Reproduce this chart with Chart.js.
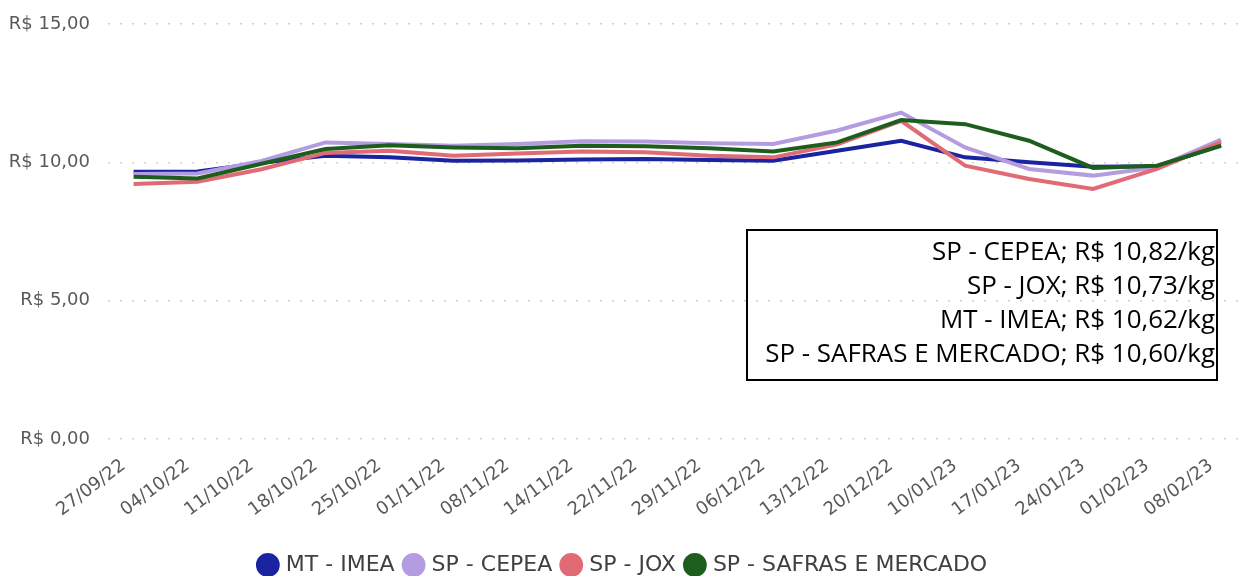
<!DOCTYPE html>
<html>
<head>
<meta charset="utf-8">
<script src="https://cdn.jsdelivr.net/npm/chart.js@4"></script>
<style>
  html, body { margin: 0; padding: 0; background: #ffffff; }
  #wrap { width: 1242px; height: 576px; position: relative; }
</style>
</head>
<body>
<div id="wrap"><canvas id="c" width="1242" height="576"></canvas></div>
<script>
const categories = ['27/09/22','04/10/22','11/10/22','18/10/22','25/10/22','01/11/22','08/11/22','14/11/22','22/11/22','29/11/22','06/12/22','13/12/22','20/12/22','10/01/23','17/01/23','24/01/23','01/02/23','08/02/23'];
const seriesNames = ['MT - IMEA', 'SP - CEPEA', 'SP - JOX', 'SP - SAFRAS E MERCADO'];
const mtImea   = [9.66, 9.67, 9.98, 10.24, 10.18, 10.06, 10.07, 10.10, 10.12, 10.08, 10.06, 10.42, 10.78, 10.18, 10.00, 9.84, 9.86, 10.62];
const spCepea  = [9.58, 9.60, 10.05, 10.72, 10.66, 10.60, 10.66, 10.76, 10.75, 10.69, 10.66, 11.15, 11.80, 10.54, 9.76, 9.52, 9.82, 10.82];
const spJox    = [9.22, 9.30, 9.75, 10.34, 10.42, 10.24, 10.32, 10.39, 10.36, 10.24, 10.18, 10.65, 11.50, 9.88, 9.40, 9.04, 9.76, 10.73];
const spSafras = [9.48, 9.42, 9.95, 10.48, 10.62, 10.54, 10.51, 10.60, 10.58, 10.51, 10.39, 10.72, 11.53, 11.38, 10.78, 9.80, 9.88, 10.60];
const yTicks = [0, 5, 10, 15];

const colors = ['#1b24a0', '#b39de0', '#e06b74', '#1d5e1f'];
const allSeries = [mtImea, spCepea, spJox, spSafras];

function fmtBRL(v) { return 'R$ ' + v.toFixed(2).replace('.', ','); }

const datasets = allSeries.map((s, k) => ({
  label: seriesNames[k],
  data: s.map((v, i) => ({ x: i, y: v })),
  borderColor: colors[k],
  backgroundColor: colors[k],
  borderWidth: 4,
  pointRadius: 0,
  tension: 0,
  order: 3 - k
}));

const annotationPlugin = {
  id: 'lastValueBox',
  afterDatasetsDraw(chart) {
    const ctx = chart.ctx;
    const lines = allSeries.map((s, k) => ({ name: seriesNames[k], v: s[s.length - 1] }))
      .sort((a, b) => b.v - a.v)
      .map(o => o.name + '; ' + fmtBRL(o.v) + '/kg');
    const x0 = 747, x1 = 1217, y0 = 230, y1 = 380;
    ctx.save();
    ctx.strokeStyle = '#000';
    ctx.lineWidth = 2;
    ctx.strokeRect(x0, y0, x1 - x0, y1 - y0);
    ctx.fillStyle = '#000';
    ctx.textAlign = 'right';
    ctx.textBaseline = 'middle';
    ctx.font = '20px "Open Sans", sans-serif';
    const w = ctx.measureText(lines[3]).width;
    const size = 20 * 450 / w;
    ctx.font = size.toFixed(2) + 'px "Open Sans", sans-serif';
    lines.forEach((t, i) => ctx.fillText(t, 1215, 253 + i * 34));
    ctx.restore();
  }
};

new Chart(document.getElementById('c'), {
  type: 'line',
  data: { datasets },
  plugins: [annotationPlugin],
  options: {
    responsive: false,
    animation: false,
    layout: { padding: { left: 8, right: 2, top: 24, bottom: -10 } },
    plugins: {
      tooltip: { enabled: false },
      legend: {
        position: 'bottom',
        labels: {
          sort: (a, b) => a.datasetIndex - b.datasetIndex,
          usePointStyle: true,
          pointStyle: 'circle',
          boxWidth: 14,
          boxHeight: 14,
          padding: 12,
          color: '#404040',
          font: { family: '"DejaVu Sans", sans-serif', size: 22, lineHeight: 1 }
        }
      }
    },
    scales: {
      x: {
        type: 'linear',
        min: -0.40,
        max: 17.297,
        afterBuildTicks(scale) { scale.ticks = categories.map((c, i) => ({ value: i })); },
        afterFit(scale) { scale.paddingLeft = 0; scale.paddingRight = 0; scale.height = 103; },
        grid: { display: false },
        border: { display: false },
        ticks: {
          autoSkip: false,
          minRotation: 37,
          maxRotation: 37,
          padding: 8,
          labelOffset: -10,
          color: '#595959',
          font: { family: '"DejaVu Sans", sans-serif', size: 18 },
          callback: (v) => categories[v]
        }
      },
      y: {
        min: 0,
        max: 15,
        afterBuildTicks(scale) { scale.ticks = yTicks.map(v => ({ value: v })); },
        afterFit(scale) { scale.width = 100; scale.paddingTop = 0; scale.paddingBottom = 0; },
        border: { display: false, dash: [2, 10] },
        grid: {
          color: '#cfcfcf',
          lineWidth: 1.5,
          drawTicks: false
        },
        ticks: {
          padding: 18,
          color: '#595959',
          font: { family: '"DejaVu Sans", sans-serif', size: 18 },
          callback: (v) => fmtBRL(v)
        }
      }
    }
  }
});
</script>
</body>
</html>
